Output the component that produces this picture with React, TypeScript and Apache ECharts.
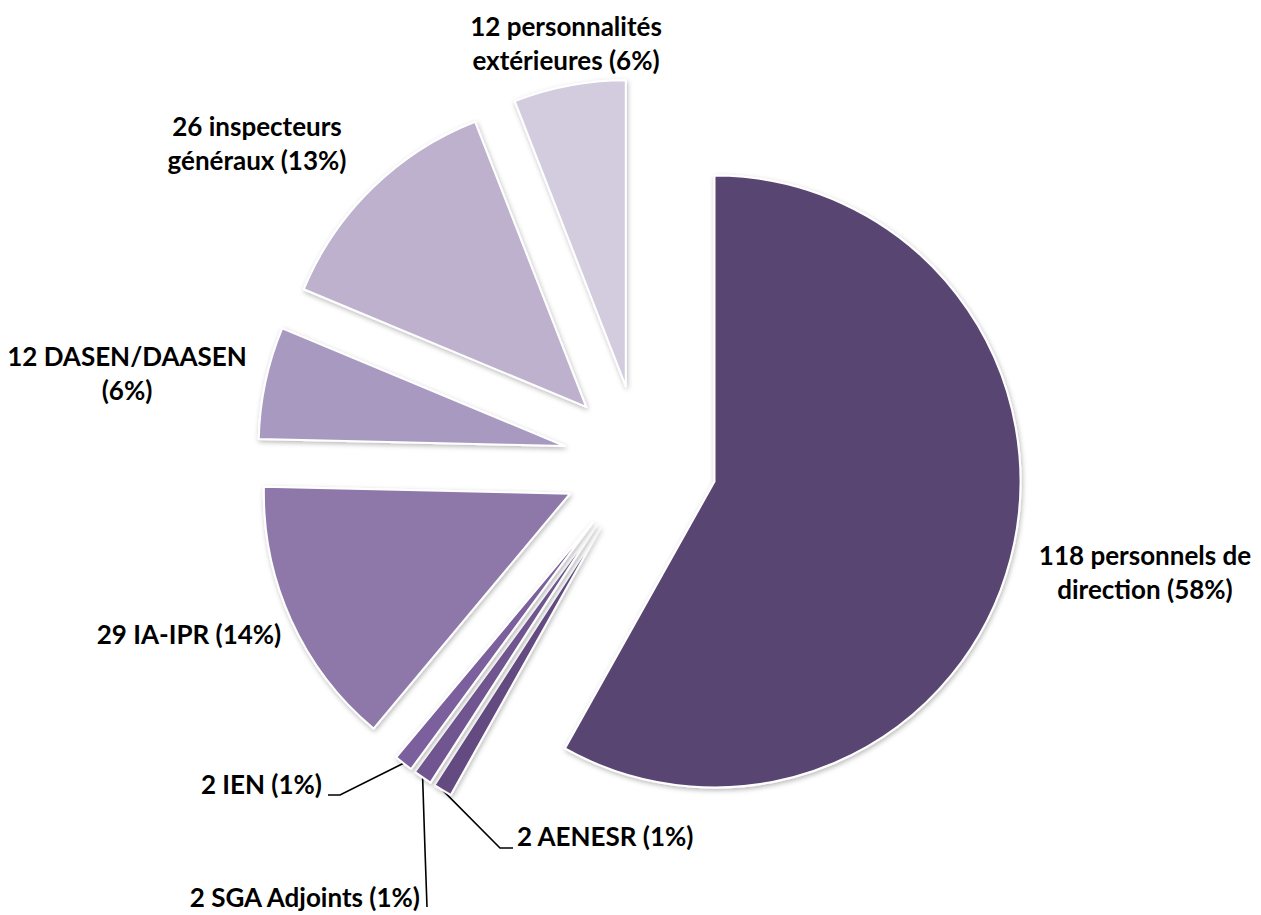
import React, { useEffect, useRef } from 'react';
import * as echarts from 'echarts';

// ---- data ----
const categories = [
  'personnels de direction',
  'AENESR',
  'SGA Adjoints',
  'IEN',
  'IA-IPR',
  'DASEN/DAASEN',
  'inspecteurs généraux',
  'personnalités extérieures',
];
const values = [118, 2, 2, 2, 29, 12, 26, 12];
const labelTexts = [
  '118 personnels de\ndirection (58%)',
  '2 AENESR (1%)',
  '2 SGA Adjoints (1%)',
  '2 IEN (1%)',
  '29 IA-IPR (14%)',
  '12 DASEN/DAASEN\n(6%)',
  '26 inspecteurs\ngénéraux (13%)',
  '12 personnalités\nextérieures (6%)',
];

// ---- styles / layout ----
const sliceColors = ['#594571', '#634B82', '#6F5590', '#7B5E9D', '#8E78AA', '#A899C1', '#BDB1CE', '#D3CBDE'];
const CENTER = [640, 462];
const RADIUS = 306;
const EXPLODE = 77;
type LabelBox = { x: number; y: number; align: 'left' | 'right' | 'center'; line?: number[][] };
const labelBoxes: LabelBox[] = [
  { x: 1145, y: 572, align: 'center' },
  { x: 517, y: 836, align: 'left', line: [[500, 848], [513, 848]] },
  { x: 420, y: 897, align: 'right', line: [[425, 850], [427, 907]] },
  { x: 322, y: 784, align: 'right', line: [[340, 795], [328, 795]] },
  { x: 189, y: 634, align: 'center' },
  { x: 127, y: 373, align: 'center' },
  { x: 257, y: 143, align: 'center' },
  { x: 566, y: 43, align: 'center' },
];

export default function App() {
  const ref = useRef<HTMLDivElement>(null);
  useEffect(() => {
    if (!ref.current) return;
    const chart = echarts.init(ref.current, undefined, { renderer: 'svg' });
    const total = values.reduce((a, b) => a + b, 0);
    let cum = 0;
    const series = values.map((v, i) => {
      const a0 = (cum / total) * 360;
      cum += v;
      const a1 = (cum / total) * 360;
      const mid = (((a0 + a1) / 2) * Math.PI) / 180;
      const dx = Math.sin(mid);
      const dy = -Math.cos(mid);
      const cx = CENTER[0] + EXPLODE * dx;
      const cy = CENTER[1] + EXPLODE * dy;
      const start = [cx + RADIUS * dx, cy + RADIUS * dy];
      const box = labelBoxes[i];
      return {
        type: 'pie',
        name: categories[i],
        center: [cx, cy],
        radius: RADIUS,
        startAngle: 90 - a0,
        clockwise: true,
        avoidLabelOverlap: false,
        silent: true,
        data: [
          {
            name: categories[i],
            value: v,
            itemStyle: {
              color: sliceColors[i],
              borderColor: '#ffffff',
              borderWidth: 2,
              shadowBlur: 5,
              shadowOffsetX: 1,
              shadowOffsetY: 2,
              shadowColor: 'rgba(0,0,0,0.28)',
            },
            label: {
              show: true,
              position: 'outside',
              formatter: labelTexts[i],
              fontFamily: 'Lato',
              fontWeight: 'bold',
              fontSize: 26,
              lineHeight: 34,
              color: '#000000',
            },
            labelLine: {
              show: !!box.line,
              lineStyle: { color: '#000000', width: 1.6 },
            },
          },
          {
            name: '',
            value: total - v,
            itemStyle: { color: 'rgba(0,0,0,0)', borderWidth: 0, shadowBlur: 0 },
            label: { show: false },
            labelLine: { show: false },
            emphasis: { disabled: true },
          },
        ],
        labelLayout: (params: any) => {
          if (params.dataIndex !== 0) return {};
          const res: any = { x: box.x, y: box.y, align: box.align, verticalAlign: 'middle' };
          if (box.line) res.labelLinePoints = [start, ...box.line];
          return res;
        },
      };
    });
    chart.setOption({
      animation: false,
      backgroundColor: '#ffffff',
      series,
    });
    return () => chart.dispose();
  }, []);
  return (
    <div
      ref={ref}
      style={{ position: 'absolute', left: 0, top: 0, width: 1261, height: 915, background: '#fff' }}
    />
  );
}
